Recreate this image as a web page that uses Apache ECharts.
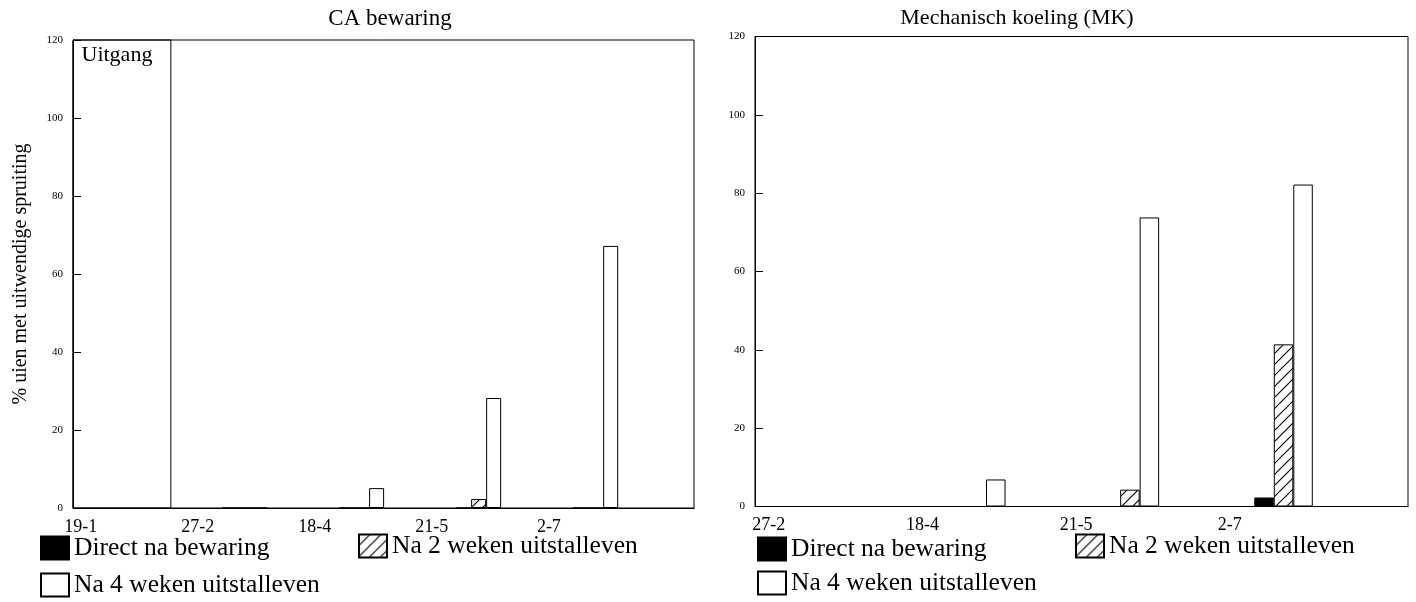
<!DOCTYPE html>
<html><head><meta charset="utf-8">
<script src="https://cdn.jsdelivr.net/npm/echarts@6/dist/echarts.min.js"></script>
<style>html,body{margin:0;padding:0;background:#fff}#c{width:1416px;height:602px}</style>
</head><body><div id="c"></div><script>
// ---- data ----
const CAT_CA = ['19-1', '27-2', '18-4', '21-5', '2-7'];
const DIRECT_CA = [null, 0, 0, 0, 0];
const WEEK2_CA = [null, 0, 0, 2.3, 0];
const WEEK4_CA = [null, 0, 5.1, 28.2, 67.2];
const CAT_MK = ['27-2', '18-4', '21-5', '2-7'];
const DIRECT_MK = [0, 0, 0, 2.3];
const WEEK2_MK = [0, 0, 4.3, 41.4];
const WEEK4_MK = [0, 6.9, 73.8, 82.2];
const Y_MAX = 120, Y_STEP = 20;
const NAMES = ['Direct na bewaring', 'Na 2 weken uitstalleven', 'Na 4 weken uitstalleven'];
const TITLES = ['CA bewaring', 'Mechanisch koeling (MK)'];
const Y_NAME = '% uien met uitwendige spruiting';
const UITGANG = 'Uitgang';

// ---- style ----
const FONT = '"Liberation Serif", "DejaVu Serif", serif';
function hatch() {
  const s = 11;
  const c = document.createElement('canvas'); c.width = s; c.height = s;
  const g = c.getContext('2d');
  g.fillStyle = '#fff'; g.fillRect(0, 0, s, s);
  g.strokeStyle = '#000'; g.lineWidth = 1.1; g.beginPath();
  g.moveTo(0, s); g.lineTo(s, 0); g.moveTo(-1, 1); g.lineTo(1, -1); g.moveTo(s - 1, s + 1); g.lineTo(s + 1, s - 1);
  g.stroke(); return c;
}
const STYLES = [
  { color: '#000', borderColor: '#000', borderWidth: 1 },
  { color: { image: hatch(), repeat: 'repeat' }, borderColor: '#000', borderWidth: 1 },
  { color: '#fff', borderColor: '#000', borderWidth: 1 }
];

function bars(cats, vals, k, idx, bw) {
  return {
    type: 'bar', name: NAMES[k], xAxisIndex: idx, yAxisIndex: idx,
    barWidth: bw, barGap: '0%',
    data: cats.map((c, i) => [i, vals[i]]),
    itemStyle: STYLES[k], emphasis: { disabled: true }
  };
}
function xAxis(idx, cats, min, max, shift) {
  return {
    gridIndex: idx, type: 'value', min: min, max: max,
    axisLine: { show: true, onZero: false, lineStyle: { color: '#000' } },
    axisTick: { show: false }, splitLine: { show: false },
    axisLabel: {
      customValues: cats.map((c, i) => i - shift),
      formatter: v => cats[Math.round(v + shift)] || '',
      fontSize: 18, fontFamily: FONT, color: '#000', margin: 10
    }
  };
}
function yAxis(idx, name) {
  return {
    gridIndex: idx, type: 'value', min: 0, max: Y_MAX, interval: Y_STEP,
    axisLine: { show: true, onZero: false, lineStyle: { color: '#000' } },
    axisTick: { show: true, inside: true, length: 8, lineStyle: { color: '#000' } },
    splitLine: { show: false },
    axisLabel: { fontSize: 11, fontFamily: FONT, color: '#000', margin: 10 },
    name: name, nameLocation: 'middle', nameGap: 42,
    nameTextStyle: { fontSize: 20, fontFamily: FONT, color: '#000' }
  };
}
function legend(name, left, top) {
  return {
    data: [name], left: left, top: top, padding: 0, icon: 'rect',
    itemWidth: 28, itemHeight: 23, selectedMode: false,
    textStyle: { fontSize: 25.5, fontFamily: FONT, color: '#000' }
  };
}

const ca = [bars(CAT_CA, DIRECT_CA, 0, 0, 15), bars(CAT_CA, WEEK2_CA, 1, 0, 15), bars(CAT_CA, WEEK4_CA, 2, 0, 15)];
ca[2].markArea = {
  silent: true,
  itemStyle: { color: 'rgba(0,0,0,0)', borderColor: '#000', borderWidth: 1 },
  label: { show: true, position: 'insideTopLeft', formatter: '{b}', fontSize: 22, fontFamily: FONT, color: '#000', offset: [4, 0] },
  data: [[{ name: UITGANG, xAxis: -0.466, yAxis: 0 }, { xAxis: 0.37, yAxis: Y_MAX }]]
};
const mk = [bars(CAT_MK, DIRECT_MK, 0, 1, 19.5), bars(CAT_MK, WEEK2_MK, 1, 1, 19.5), bars(CAT_MK, WEEK4_MK, 2, 1, 19.5)];

const chart = echarts.init(document.getElementById('c'));
chart.setOption({
  animation: false,
  backgroundColor: '#fff',
  title: [
    { text: TITLES[0], left: 385, top: 2, textAlign: 'center', textStyle: { fontSize: 23, fontWeight: 'normal', fontFamily: FONT, color: '#000' } },
    { text: TITLES[1], left: 1012, top: 2, textAlign: 'center', textStyle: { fontSize: 22, fontWeight: 'normal', fontFamily: FONT, color: '#000' } }
  ],
  legend: [
    legend(NAMES[0], 40, 535), legend(NAMES[1], 358, 533), legend(NAMES[2], 40, 572),
    legend(NAMES[0], 757, 536), legend(NAMES[1], 1075, 533), legend(NAMES[2], 757, 570)
  ],
  grid: [
    { left: 73, right: 722, top: 40, bottom: 94, show: true, borderColor: '#000', borderWidth: 1 },
    { left: 755, right: 8, top: 36.5, bottom: 95.5, show: true, borderColor: '#000', borderWidth: 1 }
  ],
  xAxis: [xAxis(0, CAT_CA, -0.466, 4.84, 0.4), xAxis(1, CAT_MK, -0.44, 3.81, 0.35)],
  yAxis: [yAxis(0, Y_NAME), yAxis(1, '')],
  series: ca.concat(mk)
});
</script></body></html>
